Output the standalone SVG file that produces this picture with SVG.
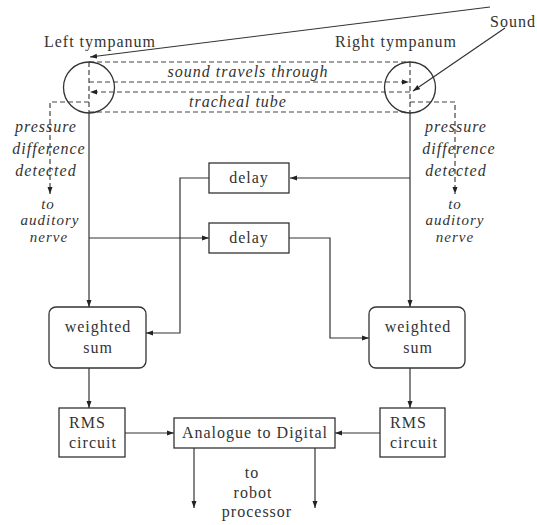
<svg xmlns="http://www.w3.org/2000/svg" width="537" height="525" viewBox="0 0 537 525">
<style>
text{font-family:"Liberation Serif","DejaVu Serif","Times New Roman",serif;font-size:16px;fill:#333;letter-spacing:1px}
.it{font-style:italic}
.c{text-anchor:middle}
.sm{font-size:15px}
.box{fill:#fff;stroke:#333;stroke-width:1.3}
.ln{fill:none;stroke:#333;stroke-width:1.2}
.dl{fill:none;stroke:#444;stroke-width:1.2;stroke-dasharray:5 3}
</style>
<defs>
<marker id="ah" markerUnits="userSpaceOnUse" markerWidth="8" markerHeight="6" refX="7" refY="3" orient="auto">
<path d="M0,0.5 L7,3 L0,5.5 z" fill="#222"/>
</marker>
</defs>
<g id="connectors">
<path class="dl" d="M89,62 V113"/>
<path class="dl" d="M410,62 V113"/>
<path class="dl" d="M89,62 H410"/>
<path class="dl" d="M89,82 H409" marker-end="url(#ah)"/>
<path class="dl" d="M410,92 H90" marker-end="url(#ah)"/>
<path class="dl" d="M89,112 H410"/>
<path class="dl" d="M89,102 H50 V194" marker-end="url(#ah)"/>
<path class="dl" d="M410,102 H455 V194" marker-end="url(#ah)"/>
<path class="ln" d="M490,7 L90,57" marker-end="url(#ah)"/>
<path class="ln" d="M505,28 L413,91" marker-end="url(#ah)"/>
<path class="ln" d="M89,113 V307" marker-end="url(#ah)"/>
<path class="ln" d="M410,113 V307" marker-end="url(#ah)"/>
<path class="ln" d="M410,178 H290" marker-end="url(#ah)"/>
<path class="ln" d="M209,178 H180 V333 H146" marker-end="url(#ah)"/>
<path class="ln" d="M89,238 H209" marker-end="url(#ah)"/>
<path class="ln" d="M289,238 H330 V338 H369" marker-end="url(#ah)"/>
<path class="ln" d="M89,368 V408" marker-end="url(#ah)"/>
<path class="ln" d="M410,368 V408" marker-end="url(#ah)"/>
<path class="ln" d="M125,433 H174" marker-end="url(#ah)"/>
<path class="ln" d="M380,433 H335" marker-end="url(#ah)"/>
<path class="ln" d="M194,448 V508" marker-end="url(#ah)"/>
<path class="ln" d="M315,448 V508" marker-end="url(#ah)"/>
</g>
<g id="left-tympanum">
<circle cx="89" cy="87.5" r="25.5" fill="none" stroke="#333" stroke-width="1.3"/>
<text x="100" y="47" class="c">Left tympanum</text>
</g>
<g id="right-tympanum">
<circle cx="410" cy="87.5" r="25.5" fill="none" stroke="#333" stroke-width="1.3"/>
<text x="396" y="47" class="c">Right tympanum</text>
</g>
<g id="sound"><text x="490" y="27">Sound</text></g>
<g id="tube-labels">
<text x="248" y="77" class="it c">sound travels through</text>
<text x="238" y="107" class="it c">tracheal tube</text>
</g>
<g id="left-nerve">
<text x="46" y="132" class="it c">pressure</text>
<text x="49" y="154" class="it c">difference</text>
<text x="46" y="176" class="it c">detected</text>
<text x="48" y="209" class="it c sm">to</text>
<text x="50" y="225" class="it c sm">auditory</text>
<text x="49" y="242" class="it c sm">nerve</text>
</g>
<g id="right-nerve">
<text x="456" y="132" class="it c">pressure</text>
<text x="459" y="154" class="it c">difference</text>
<text x="456" y="176" class="it c">detected</text>
<text x="455" y="209" class="it c sm">to</text>
<text x="455" y="225" class="it c sm">auditory</text>
<text x="455" y="242" class="it c sm">nerve</text>
</g>
<g id="delay-top">
<rect class="box" x="209" y="163" width="80" height="30"/>
<text x="249" y="183" class="c">delay</text>
</g>
<g id="delay-bottom">
<rect class="box" x="209" y="223" width="80" height="30"/>
<text x="249" y="243" class="c">delay</text>
</g>
<g id="weighted-left">
<rect class="box" x="49" y="307" width="97" height="61" rx="7"/>
<text x="98" y="332" class="c">weighted</text>
<text x="98" y="353" class="c">sum</text>
</g>
<g id="weighted-right">
<rect class="box" x="369" y="307" width="96" height="61" rx="7"/>
<text x="418" y="332" class="c">weighted</text>
<text x="418" y="353" class="c">sum</text>
</g>
<g id="rms-left">
<rect class="box" x="59" y="408" width="66" height="49"/>
<text x="69" y="428">RMS</text>
<text x="69" y="448">circuit</text>
</g>
<g id="rms-right">
<rect class="box" x="380" y="408" width="65" height="49"/>
<text x="390" y="428">RMS</text>
<text x="390" y="448">circuit</text>
</g>
<g id="adc">
<rect class="box" x="174" y="418" width="161" height="30"/>
<text x="255" y="438" class="c">Analogue to Digital</text>
</g>
<g id="robot">
<text x="252" y="478" class="c">to</text>
<text x="253" y="498" class="c">robot</text>
<text x="257" y="517" class="c">processor</text>
</g>
</svg>
